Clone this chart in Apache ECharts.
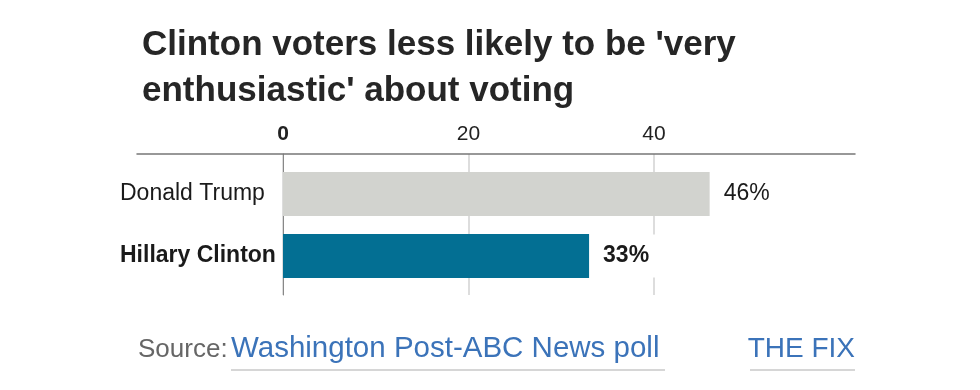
<!DOCTYPE html>
<html><head><meta charset="utf-8">
<script src="https://cdn.jsdelivr.net/npm/echarts@6/dist/echarts.min.js"></script>
<style>html,body{margin:0;padding:0;background:#fff}#c{width:980px;height:390px}</style>
</head><body><div id="c"></div>
<script>
const titleText = "Clinton voters less likely to be 'very\nenthusiastic' about voting";
const categories = ['Donald Trump', 'Hillary Clinton'];
const values = [46, 33];
const barColors = ['#d2d3cf', '#036f93'];
const boldFlags = [false, true];
const tickValues = [0, 20, 40];
const sourceLabel = 'Source:';
const sourceName = 'Washington Post-ABC News poll';
const brandName = 'THE FIX';

const FONT = '"Liberation Sans", Arial, sans-serif';
const chart = echarts.init(document.getElementById('c'), null, {renderer: 'canvas'});

const option = {
  animation: false,
  backgroundColor: '#fff',
  textStyle: {fontFamily: FONT},
  title: {
    text: titleText,
    left: 137, top: 17,
    textStyle: {fontFamily: FONT, fontSize: 35, fontWeight: 'bold', color: '#262626', lineHeight: 46}
  },
  grid: [
    {left: 137, right: 125, top: 154, height: 141, outerBoundsMode: 'none', containLabel: false},
    {left: 283, width: 371, top: 154, height: 141, outerBoundsMode: 'none', containLabel: false},
    {left: 283, width: 371, top: 163, height: 124, outerBoundsMode: 'none', containLabel: false}
  ],
  xAxis: [
    {gridIndex: 0, type: 'value', position: 'top', min: 0, max: 1,
     axisLine: {show: true, onZero: false, lineStyle: {color: '#777', width: 1.5}},
     axisTick: {show: false}, axisLabel: {show: false}, splitLine: {show: false}},
    {gridIndex: 1, type: 'value', position: 'top', min: tickValues[0], max: tickValues[tickValues.length - 1], interval: tickValues[1] - tickValues[0],
     axisLine: {show: false}, axisTick: {show: false},
     axisLabel: {margin: 9, fontSize: 21, color: '#222', fontFamily: FONT,
       formatter: v => v === 0 ? '{b|' + v + '}' : String(v),
       rich: {b: {fontSize: 21, fontWeight: 'bold', color: '#222', fontFamily: FONT}}},
     splitLine: {show: true, lineStyle: {color: '#ddd', width: 2}}},
    {gridIndex: 2, type: 'value', min: tickValues[0], max: tickValues[tickValues.length - 1],
     show: false}
  ],
  yAxis: [
    {gridIndex: 0, type: 'value', show: false},
    {gridIndex: 1, type: 'value', min: 0, max: 1,
     axisLine: {show: true, lineStyle: {color: '#888', width: 1}},
     axisTick: {show: false}, axisLabel: {show: false}, splitLine: {show: false}},
    {gridIndex: 2, type: 'category', inverse: true,
     data: categories,
     axisLine: {show: false}, axisTick: {show: false}, splitLine: {show: false},
     axisLabel: {margin: 2, fontSize: 23, color: '#1a1a1a', fontFamily: FONT,
       formatter: v => (boldFlags[categories.indexOf(v)] ? '{b|' : '{n|') + v + '}',
       rich: {
         n: {width: 161, align: 'left', fontSize: 23, color: '#1a1a1a', fontFamily: FONT},
         b: {width: 161, align: 'left', fontSize: 23, fontWeight: 'bold', color: '#1a1a1a', fontFamily: FONT}
       }}}
  ],
  series: [{
    type: 'bar',
    xAxisIndex: 2, yAxisIndex: 2,
    clip: false,
    barWidth: 44,
    data: values.map((v, i) => ({
      value: v,
      itemStyle: {color: barColors[i]},
      label: {fontWeight: boldFlags[i] ? 'bold' : 'normal'}
    })),
    label: {
      show: true, position: 'right', distance: 14,
      formatter: p => p.value + '%',
      fontSize: 23, color: '#1a1a1a', fontFamily: FONT,
      backgroundColor: '#fff', padding: [10, 8, 10, 0]
    }
  }],
  graphic: [
    {type: 'text', left: 138, top: 337, style: {text: sourceLabel, font: '26px ' + FONT, fill: '#666'}},
    {type: 'text', left: 231, top: 334, style: {text: sourceName, font: '29.5px ' + FONT, fill: '#3b73b9'}},
    {type: 'text', right: 125, top: 335, style: {text: brandName, font: '28px ' + FONT, fill: '#3b73b9'}},
    {type: 'rect', left: 231, top: 369, shape: {width: 434, height: 2}, style: {fill: '#d6d6d6'}},
    {type: 'rect', left: 750, top: 369, shape: {width: 105, height: 2}, style: {fill: '#d6d6d6'}}
  ]
};
chart.setOption(option);
</script>
</body></html>
